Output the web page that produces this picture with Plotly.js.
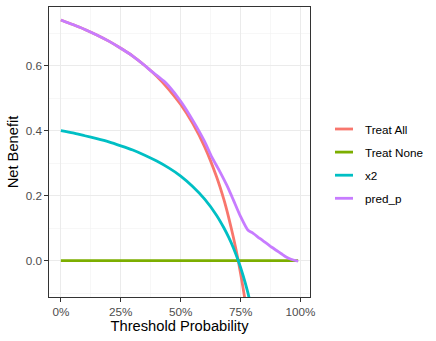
<!DOCTYPE html>
<html>
<head>
<meta charset="utf-8">
<script src="https://cdn.plot.ly/plotly-3.0.1.min.js"></script>
<style>html,body{margin:0;padding:0;background:#fff;}#chart{width:436px;height:341px;}</style>
</head>
<body>
<div id="chart"></div>
<script>
// ---- data ----
const seriesNames = ["Treat All", "Treat None", "x2", "pred_p"];
const seriesColors = ["#F8766D", "#7CAE00", "#00BFC4", "#C77CFF"];

const thrAll = [0,0.05,0.10,0.15,0.20,0.25,0.30,0.35,0.40,0.45,0.50,0.55,0.60,0.65,0.68,0.70,0.72,0.74,0.76,0.78,0.80];
const nbAll  = [0.740,0.726,0.711,0.694,0.675,0.653,0.629,0.600,0.567,0.527,0.480,0.422,0.350,0.257,0.188,0.133,0.071,0.000,-0.083,-0.180,-0.300];

const thrNone = [0, 0.99];
const nbNone  = [0, 0];

const thrX2 = [0,0.05,0.10,0.15,0.20,0.25,0.30,0.35,0.40,0.45,0.50,0.55,0.60,0.65,0.68,0.70,0.72,0.74,0.76,0.78,0.80];
const nbX2  = [0.400,0.393,0.384,0.375,0.365,0.353,0.340,0.324,0.306,0.285,0.260,0.228,0.189,0.139,0.101,0.072,0.039,0.000,-0.045,-0.098,-0.162];

const thrPred = [0,0.05,0.10,0.15,0.20,0.25,0.30,0.35,0.38,0.40,0.43,0.45,0.50,0.55,0.60,0.63,0.66,0.70,0.72,0.75,0.78,0.80,0.83,0.86,0.88,0.90,0.92,0.94,0.96,0.99];
const nbPred  = [0.740,0.726,0.711,0.694,0.675,0.653,0.629,0.600,0.581,0.570,0.552,0.537,0.490,0.432,0.366,0.318,0.278,0.220,0.186,0.135,0.094,0.085,0.068,0.052,0.041,0.031,0.021,0.011,0.004,-0.002];

const xTickVals = [0, 0.25, 0.5, 0.75, 1];
const xTickText = ["0%", "25%", "50%", "75%", "100%"];
const yTickVals = [0, 0.2, 0.4, 0.6];
const yTickText = ["0.0", "0.2", "0.4", "0.6"];

// ---- chart ----
const xs = [thrAll, thrNone, thrX2, thrPred];
const ys = [nbAll, nbNone, nbX2, nbPred];
const traces = seriesNames.map((n, i) => ({
  x: xs[i], y: ys[i], name: n, type: "scatter", mode: "lines",
  line: {color: seriesColors[i], width: 2.8, shape: "spline", smoothing: 0.6},
  showlegend: false, hoverinfo: "skip"
}));

const W = 436, H = 341, mL = 49, mR = 126, mT = 7, mB = 44;
const pw = W - mL - mR, ph = H - mT - mB;
const px2x = p => (p - mL) / pw;
const py2y = p => 1 - (p - mT) / ph;

const shapes = [];
const annotations = [];
seriesNames.forEach((n, i) => {
  const yy = py2y(129 + 23.1 * i);
  shapes.push({type: "line", xref: "paper", yref: "paper",
    x0: px2x(335), x1: px2x(353), y0: yy, y1: yy,
    line: {color: seriesColors[i], width: 2.8}});
  annotations.push({xref: "paper", yref: "paper", x: px2x(363), y: yy,
    xanchor: "left", yanchor: "middle", text: n, showarrow: false,
    font: {size: 11.7, color: "#000000"}});
});

const axisCommon = {
  showline: true, mirror: true, linecolor: "#333333", linewidth: 1,
  ticks: "outside", ticklen: 3.6, tickwidth: 1, tickcolor: "#333333",
  tickfont: {size: 11.7, color: "#4D4D4D"},
  showgrid: true, gridcolor: "#EBEBEB", gridwidth: 1.1,
  zeroline: false, tickmode: "array"
};

const layout = {
  width: W, height: H,
  margin: {l: mL, r: mR, t: mT, b: mB, pad: 0},
  paper_bgcolor: "#ffffff", plot_bgcolor: "#ffffff",
  font: {family: "Liberation Sans, Arial, sans-serif", color: "#000000"},
  showlegend: false,
  xaxis: Object.assign({}, axisCommon, {
    range: [-0.0495, 1.0395], tickvals: xTickVals, ticktext: xTickText,
    minor: {tickmode: "linear", tick0: 0.125, dtick: 0.25, showgrid: true, gridcolor: "#F2F2F2", gridwidth: 0.6, ticks: ""},
    title: {text: "Threshold Probability", font: {size: 14.7, color: "#000000"}, standoff: 3},
    automargin: false
  }),
  yaxis: Object.assign({}, axisCommon, {
    range: [-0.112, 0.78], tickvals: yTickVals, ticktext: yTickText,
    minor: {tickmode: "linear", tick0: 0.1, dtick: 0.2, showgrid: true, gridcolor: "#F2F2F2", gridwidth: 0.6, ticks: ""},
    title: {text: "Net Benefit", font: {size: 14.7, color: "#000000"}, standoff: 3},
    automargin: false
  }),
  shapes: shapes,
  annotations: annotations
};

Plotly.newPlot("chart", traces, layout, {displayModeBar: false, staticPlot: true});
</script>
</body>
</html>
